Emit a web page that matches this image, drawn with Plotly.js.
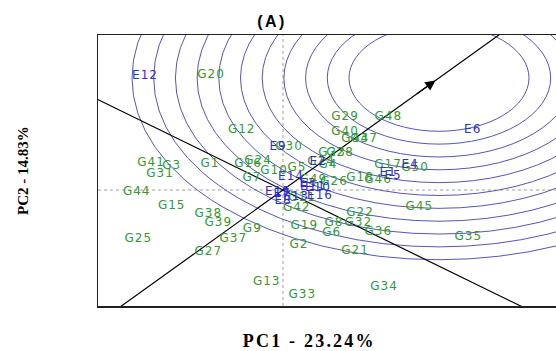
<!DOCTYPE html>
<html>
<head>
<meta charset="utf-8">
<script src="https://cdn.plot.ly/plotly-3.0.1.min.js"></script>
<style>
html,body{margin:0;padding:0;overflow:hidden;background:#fff;}
.textpoint text{letter-spacing:1px;}
.gtitle{letter-spacing:2.5px;}
g.annotation[data-index="1"] text{letter-spacing:2.2px;}
</style>
</head>
<body>
<div id="chart" style="width:556px;height:351px;"></div>
<script>
// Genotype scores (PC1, PC2)
const genotypes = ["G1","G2","G3","G4","G5","G6","G7","G8","G9","G10",
  "G11","G12","G13","G14","G15","G16","G17","G18","G19","G20",
  "G21","G22","G23","G24","G25","G26","G27","G28","G29","G30",
  "G31","G32","G33","G34","G35","G36","G37","G38","G39","G40",
  "G41","G42","G43","G44","G45","G46","G47","G48","G49","G50"];
const genoPC1 = [-1.46,0.32,-2.226,0.90,0.28,0.974,-0.62,1.02,-0.614,-0.18,
  0.38,-0.826,-0.326,0.76,-2.226,-0.70,2.10,1.54,0.426,-1.44,
  1.44,1.54,0.98,-0.50,-2.894,1.02,-1.494,1.14,1.24,0.12,
  -2.46,1.506,0.386,2.02,3.706,1.906,-0.994,-1.494,-1.294,1.24,
  -2.64,0.274,1.44,-2.926,2.726,1.90,1.62,2.106,0.606,2.64];
const genoPC2 = [0.868,-1.868,0.811,0.845,0.743,-1.443,0.405,-1.115,-1.328,0.642,
  -0.270,2.027,-3.098,0.946,-0.541,0.878,0.828,0.405,-1.216,3.885,
  -2.061,-0.787,1.25,0.98,-1.655,0.280,-2.105,1.240,2.456,1.453,
  0.530,-1.105,-3.547,-3.267,-1.578,-1.409,-1.655,-0.811,-1.105,1.959,
  0.922,-0.618,1.723,-0.057,-0.584,0.338,1.723,2.476,0.338,0.733];

// Environment scores (PC1, PC2)
const environments = ["E1","E2","E3","E4","E5","E6","E7","E8",
  "E9","E10","E11","E12","E13","E14","E15","E16"];
const envPC1 = [2.10,0.70,0.50,2.54,2.20,3.794,-0.02,0.00,
  -0.10,0.70,0.60,-2.76,0.26,0.16,-0.10,0.74];
const envPC2 = [0.574,0.946,0.203,0.861,0.473,2.027,-0.135,-0.372,
  1.453,0.068,0.101,3.861,-0.236,0.449,-0.068,-0.203];

// Ideal point (centre of concentric circles) and circle radii
const idealPoint = [3.12, 3.784];
const circleRadii = [1.8,2.234,2.668,3.102,3.536,3.97,4.404,4.838,5.272,5.706,6.14];
// Arrow tip position along the average-environment axis (PC1)
const arrowTipPC1 = 3.05;

const xRange = [-3.7, 5.46];
const yRange = [-3.919, 5.236];

const aeaSlope = idealPoint[1] / idealPoint[0];
const perpSlope = -1 / aeaSlope;
const lx = [-20, 20];

const traces = [
  {x: lx, y: lx.map(v => v * aeaSlope), mode: 'lines', line: {color: '#000', width: 1.2}, hoverinfo: 'skip', showlegend: false},
  {x: lx, y: lx.map(v => v * perpSlope), mode: 'lines', line: {color: '#000', width: 1.2}, hoverinfo: 'skip', showlegend: false},
  {x: genoPC1, y: genoPC2, text: genotypes, mode: 'text', textposition: 'middle center',
   textfont: {family: 'DejaVu Sans', size: 12, color: '#359835'}, showlegend: false, cliponaxis: false},
  {x: envPC1, y: envPC2, text: environments, mode: 'text', textposition: 'middle center',
   textfont: {family: 'DejaVu Sans', size: 12, color: '#2e2ed0'}, showlegend: false, cliponaxis: false}
];

const shapes = circleRadii.map(r => ({
  type: 'circle', xref: 'x', yref: 'y', layer: 'below',
  x0: idealPoint[0] - r, x1: idealPoint[0] + r,
  y0: idealPoint[1] - r, y1: idealPoint[1] + r,
  line: {color: '#5656b8', width: 1}
}));
shapes.push({type: 'line', xref: 'paper', yref: 'y', x0: 0, x1: 1, y0: 0, y1: 0, layer: 'below',
  line: {color: '#a0a0a0', width: 1, dash: 'dot'}});
shapes.push({type: 'line', xref: 'x', yref: 'paper', x0: 0, x1: 0, y0: 0, y1: 1, layer: 'below',
  line: {color: '#a0a0a0', width: 1, dash: 'dot'}});

const tailPC1 = arrowTipPC1 - 0.4;
const annotations = [
  {x: arrowTipPC1, y: arrowTipPC1 * aeaSlope, ax: tailPC1, ay: tailPC1 * aeaSlope,
   xref: 'x', yref: 'y', axref: 'x', ayref: 'y', text: '', showarrow: true,
   arrowhead: 2, arrowsize: 1.7, arrowwidth: 1.2, arrowcolor: '#000', standoff: 0},
  {text: '<b>PC1 - 23.24%</b>', xref: 'paper', yref: 'paper', x: (309 - 98) / 458, y: -0.13,
   xanchor: 'center', yanchor: 'middle', showarrow: false,
   font: {family: 'Liberation Serif', size: 18, color: '#000'}}
];

const layout = {
  width: 556, height: 351,
  margin: {l: 98, r: 0, t: 35, b: 45},
  paper_bgcolor: '#fff', plot_bgcolor: '#fff',
  title: {text: '<b>(A)</b>', x: 272 / 556, xanchor: 'center', y: 1 - 21 / 351, yanchor: 'middle', yref: 'container',
    font: {family: 'Liberation Sans', size: 16, color: '#000'}},
  xaxis: {range: xRange, showgrid: false, zeroline: false, showticklabels: false, ticks: '',
    showline: true, mirror: true, linecolor: '#222', linewidth: 1.5, fixedrange: true},
  yaxis: {range: yRange, showgrid: false, zeroline: false, showticklabels: false, ticks: '',
    showline: true, mirror: false, linecolor: '#222', linewidth: 1.5, fixedrange: true,
    title: {text: '<b>PC2 - 14.83%</b>', standoff: 64, font: {family: 'Liberation Serif', size: 15, color: '#000'}}},
  shapes: shapes,
  annotations: annotations,
  showlegend: false
};

Plotly.newPlot('chart', traces, layout, {displayModeBar: false, staticPlot: true});
</script>
</body>
</html>
